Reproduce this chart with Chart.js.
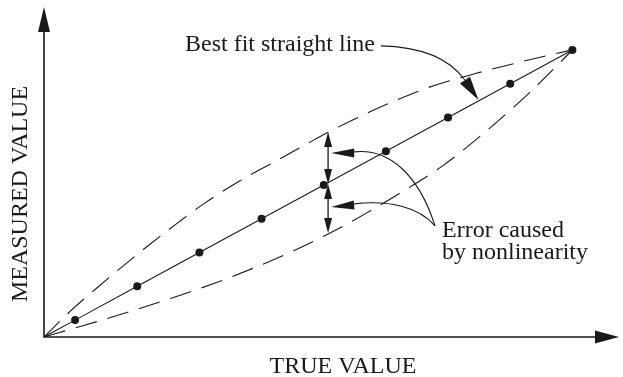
<!DOCTYPE html>
<html lang="en">
<head>
  <meta charset="UTF-8">
  <title>Nonlinearity</title>
  <script src="https://cdn.jsdelivr.net/npm/chart.js"></script>
  <style>
    html, body { margin: 0; padding: 0; background: #fff; }
    #grafico { display: block; }
  </style>
</head>
<body>
  <canvas id="grafico" width="623" height="377"></canvas>

  <script>
    // pontos sobre a reta de melhor ajuste (origem sem marcador)
    const trueVals = [0, 0.5, 1.5, 2.5, 3.5, 4.5, 5.5, 6.5, 7.5, 8.5];
    const measuredVals = [0, 0.5, 1.5, 2.5, 3.5, 4.5, 5.5, 6.5, 7.5, 8.5];

    // curva tracejada de cima
    const upperX = [0, 0.42, 0.85, 1.27, 1.70, 2.13, 2.55, 3.14, 3.74, 4.27, 4.54, 5.07, 5.60, 6.19, 6.94, 7.68, 8.5];
    const upperY = [0, 0.76, 1.45, 2.10, 2.74, 3.35, 3.92, 4.61, 5.22, 5.76, 6.03, 6.52, 6.96, 7.39, 7.80, 8.15, 8.5];

    // curva tracejada de baixo
    const lowerX = [0, 0.58, 1.11, 1.65, 2.18, 2.71, 3.03, 3.83, 4.54, 5.18, 5.71, 6.40, 7.15, 7.79, 8.32, 8.5];
    const lowerY = [0, 0.31, 0.60, 0.91, 1.23, 1.57, 1.79, 2.40, 3.02, 3.66, 4.24, 5.05, 6.15, 7.20, 8.16, 8.5];

    const xMax = 9.25;
    const yMax = 9.77;

    const cor = '#1a1a1a';
    const fonte = '"Liberation Serif", "DejaVu Serif", serif';

    const pares = (xs, ys) => xs.map((x, i) => ({ x: x, y: ys[i] }));

    function ponta(ctx, tx, ty, fx, fy, comp, larg) {
      const dx = tx - fx, dy = ty - fy;
      const d = Math.hypot(dx, dy);
      const ux = dx / d, uy = dy / d;
      const bx = tx - ux * comp, by = ty - uy * comp;
      ctx.beginPath();
      ctx.moveTo(tx, ty);
      ctx.lineTo(bx - uy * larg / 2, by + ux * larg / 2);
      ctx.lineTo(bx + uy * larg / 2, by - ux * larg / 2);
      ctx.closePath();
      ctx.fill();
    }

    const desenhos = {
      id: 'desenhos',
      afterDatasetsDraw(chart) {
        const ctx = chart.ctx;
        const sx = chart.scales.x, sy = chart.scales.y;
        const p = (x, y) => [sx.getPixelForValue(x), sy.getPixelForValue(y)];
        ctx.save();
        ctx.strokeStyle = cor;
        ctx.fillStyle = cor;

        // eixos com setas
        const [ox, oy] = p(0, 0);
        const [xe] = p(xMax, 0);
        const [, ye] = p(0, yMax);
        ctx.lineWidth = 1.6;
        ctx.beginPath();
        ctx.moveTo(ox, ye + 10);
        ctx.lineTo(ox, oy);
        ctx.lineTo(xe - 10, oy);
        ctx.stroke();
        ponta(ctx, ox, ye, ox, oy, 25, 12);
        ponta(ctx, xe, oy, ox, oy, 24, 13);

        // seta "Best fit straight line"
        ctx.lineWidth = 1.1;
        let a = p(5.42, 8.62), c1 = p(6.11, 8.59), c2 = p(6.54, 8.20), b = p(6.77, 7.61), t = p(6.99, 7.02);
        ctx.beginPath();
        ctx.moveTo(a[0], a[1]);
        ctx.bezierCurveTo(c1[0], c1[1], c2[0], c2[1], b[0], b[1]);
        ctx.stroke();
        ponta(ctx, t[0], t[1], b[0] - 2, b[1] - 3, 24, 12);

        // setas "Error caused by nonlinearity"
        const fim = p(6.29, 3.29);
        [[p(4.62, 5.45), p(4.99, 5.48), p(5.55, 5.60), p(6.03, 4.80)],
         [p(4.62, 3.85), p(4.99, 3.94), p(5.55, 4.06), p(6.03, 3.85)]].forEach(s => {
          const [tip, base, k1, k2] = s;
          ctx.beginPath();
          ctx.moveTo(fim[0], fim[1]);
          ctx.bezierCurveTo(k2[0], k2[1], k1[0], k1[1], base[0], base[1]);
          ctx.stroke();
          ponta(ctx, tip[0], tip[1], base[0], base[1] + 1, 23, 9);
        });

        // setas verticais do erro
        const xa = 4.57;
        const topo = p(xa, 6.07), meio = p(xa, 4.53), baixo = p(xa, 3.08);
        ctx.lineWidth = 1.3;
        [[topo, meio], [meio, baixo]].forEach(([u, v]) => {
          ctx.beginPath();
          ctx.moveTo(u[0], u[1] + 8);
          ctx.lineTo(v[0], v[1] - 8);
          ctx.stroke();
          ponta(ctx, u[0], u[1], v[0], v[1], 15, 8);
          ponta(ctx, v[0], v[1], u[0], u[1], 15, 8);
        });

        // textos
        ctx.font = '24px ' + fonte;
        ctx.textBaseline = 'alphabetic';
        ctx.textAlign = 'left';
        ctx.fillText('Best fit straight line', 185, 51);
        ctx.fillText('Error caused', 442, 237);
        ctx.fillText('by nonlinearity', 442, 259);

        ctx.textAlign = 'center';
        ctx.fillText('TRUE VALUE', 343, 373);
        ctx.translate(26.5, 194);
        ctx.rotate(-Math.PI / 2);
        ctx.fillText('MEASURED VALUE', 0, 0);
        ctx.restore();
      }
    };

    const tracejado = {
      showLine: true,
      borderColor: cor,
      borderWidth: 1.1,
      borderDash: [22, 11],
      pointRadius: 0,
      cubicInterpolationMode: 'monotone'
    };

    new Chart(document.getElementById('grafico'), {
      type: 'scatter',
      data: {
        datasets: [
          Object.assign({ label: 'upper', data: pares(upperX, upperY) }, tracejado),
          Object.assign({ label: 'lower', data: pares(lowerX, lowerY) }, tracejado),
          {
            label: 'Best fit straight line',
            data: pares(trueVals, measuredVals),
            showLine: true,
            borderColor: cor,
            borderWidth: 1.1,
            pointRadius: [0, 4, 4, 4, 4, 4, 4, 4, 4, 4],
            pointBackgroundColor: cor,
            pointBorderWidth: 0
          }
        ]
      },
      options: {
        responsive: false,
        animation: false,
        events: [],
        layout: { padding: { left: 44, top: 7, right: 2, bottom: 40 } },
        plugins: { legend: { display: false }, tooltip: { enabled: false } },
        scales: {
          x: { type: 'linear', min: 0, max: xMax, display: false },
          y: { type: 'linear', min: 0, max: yMax, display: false }
        }
      },
      plugins: [desenhos]
    });
  </script>
</body>
</html>
